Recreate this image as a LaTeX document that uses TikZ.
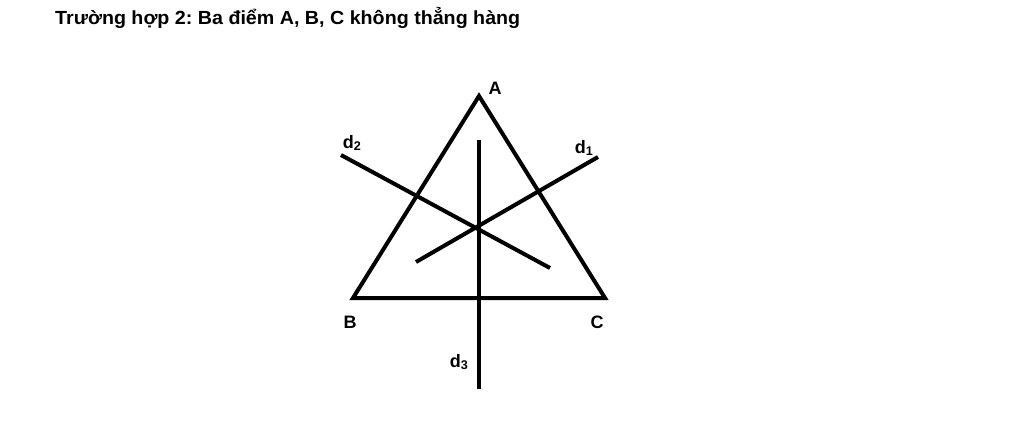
\documentclass[tikz,border=0pt]{standalone}
\usepackage{fontspec}
\setmainfont{Liberation Sans}
\frenchspacing
\begin{document}
\begin{tikzpicture}[x=1pt,y=-1pt,
  seg/.style={line width=4pt,black},
  lbl/.style={font=\bfseries\fontsize{18}{21}\selectfont,inner sep=0pt}]
\useasboundingbox (0,0) rectangle (1024,423);
\node[anchor=base west,inner sep=0pt,font=\bfseries\fontsize{19}{22}\selectfont\frenchspacing,xscale=1.035] (title) at (55,24) {Trường hợp 2: Ba điểm A, B, C không thẳng hàng};
\coordinate (A) at (479,96);
\coordinate (B) at (353,298);
\coordinate (C) at (605,298);
\draw[seg,line join=miter] (A) -- (B) -- (C) -- cycle;
\coordinate (d3t) at (479,140);
\coordinate (d3b) at (479,389);
\coordinate (d2s) at (341,155);
\coordinate (d2e) at (550,268);
\coordinate (d1s) at (416,262);
\coordinate (d1e) at (598,157);
\draw[seg] (d3t) -- (d3b);
\draw[seg] (d2s) -- (d2e);
\draw[seg] (d1s) -- (d1e);
\node[lbl] (lA) at (495,88) {A};
\node[lbl] (lB) at (350,322) {B};
\node[lbl] (lC) at (597,322) {C};
\node[lbl] (ld2) at (352,143) {d\textsubscript{2}};
\node[lbl] (ld1) at (584,148) {d\textsubscript{1}};
\node[lbl] (ld3) at (459,362) {d\textsubscript{3}};
\end{tikzpicture}
\end{document}
